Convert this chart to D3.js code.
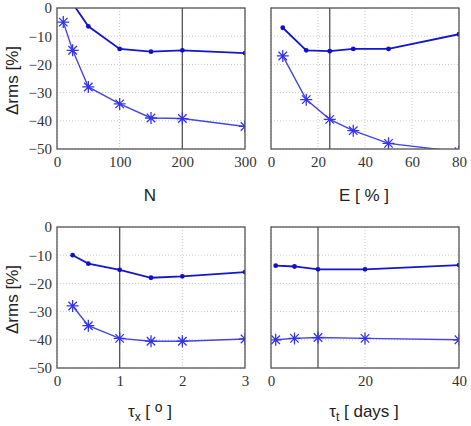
<!DOCTYPE html>
<html>
<head>
<meta charset="utf-8">
<script src="https://cdn.jsdelivr.net/npm/d3@7"></script>
<style>
  body { margin: 0; background: #fff; }
</style>
</head>
<body>
<svg id="chart" width="471" height="426"></svg>
<script>
// panel 1: N
var nX = [10, 25, 50, 100, 150, 200, 300];
var nDot = [8, 1.6, -6.5, -14.5, -15.5, -15, -16];
var nStar = [-5, -15, -28, -34, -39, -39.2, -42];
// panel 2: E [%]
var eX = [5, 15, 25, 35, 50, 80];
var eDot = [-7, -15, -15.3, -14.5, -14.5, -9.3];
var eStar = [-17, -32.5, -39.5, -43.5, -48, -51];
// panel 3: tau_x
var txX = [0.25, 0.5, 1, 1.5, 2, 3];
var txDot = [-10, -13, -15.2, -18, -17.5, -16];
var txStar = [-28, -35, -39.5, -40.5, -40.5, -39.7];
// panel 4: tau_t
var ttX = [1, 5, 10, 20, 40];
var ttDot = [-13.7, -14, -15, -15, -13.5];
var ttStar = [-40, -39.5, -39.2, -39.5, -40];

var yTicks = [0, -10, -20, -30, -40, -50];

var panels = [
  {x: nX, dot: nDot, star: nStar, dom: [0, 300], ticks: [0, 100, 200, 300], vline: 200,
   left: 57, top: 8, label: "N", ylab: true},
  {x: eX, dot: eDot, star: eStar, dom: [0, 80], ticks: [0, 20, 40, 60, 80], vline: 25,
   left: 271, top: 8, label: "E [ % ]", ylab: false},
  {x: txX, dot: txDot, star: txStar, dom: [0, 3], ticks: [0, 1, 2, 3], vline: 1,
   left: 57, top: 227, label: "tx", ylab: true},
  {x: ttX, dot: ttDot, star: ttStar, dom: [0, 40], ticks: [0, 20, 40], vline: 10,
   left: 271, top: 227, label: "tt", ylab: false}
];

var W = 188, H = 141;
var svg = d3.select("#chart");
var serif = "Liberation Serif";
var sans = "Liberation Sans";

// matlab style '*' marker: plus + cross
function starPath(r) {
  var k = r * 0.7071;
  return "M" + (-r) + ",0L" + r + ",0M0," + (-r) + "L0," + r +
    "M" + (-k) + "," + (-k) + "L" + k + "," + k + "M" + (-k) + "," + k + "L" + k + "," + (-k);
}

panels.forEach(function(p, i) {
  var g = svg.append("g").attr("transform", "translate(" + p.left + "," + p.top + ")");
  var x = d3.scaleLinear().domain(p.dom).range([0, W]);
  var y = d3.scaleLinear().domain([-50, 0]).range([H, 0]);

  // dotted grid
  g.append("g").selectAll("line").data(p.ticks).enter().append("line")
    .attr("x1", x).attr("x2", x).attr("y1", 0).attr("y2", H)
    .attr("stroke", "#c8c8c8").attr("stroke-dasharray", "1,2");
  g.append("g").selectAll("line").data(yTicks).enter().append("line")
    .attr("y1", y).attr("y2", y).attr("x1", 0).attr("x2", W)
    .attr("stroke", "#c8c8c8").attr("stroke-dasharray", "1,2");

  // vertical reference line
  g.append("line").attr("x1", x(p.vline)).attr("x2", x(p.vline))
    .attr("y1", 0).attr("y2", H).attr("stroke", "#555").attr("stroke-width", 1.3);

  var xa = g.append("g").attr("transform", "translate(0," + H + ")")
    .call(d3.axisBottom(x).tickValues(p.ticks).tickFormat(d3.format("d")).tickSize(0).tickPadding(7));
  xa.select(".domain").remove();
  var ya = g.append("g").call(d3.axisLeft(y).tickValues(yTicks).tickFormat(d3.format("d")).tickSize(0).tickPadding(5));
  ya.select(".domain").remove();
  if (!p.ylab) ya.selectAll("text").remove();
  [xa, ya].forEach(function(a) {
    a.attr("font-family", serif).attr("font-size", "15px");
    a.selectAll("text")
      .attr("font-family", serif).attr("font-size", "15px").attr("fill", "#333")
      .style("font-family", serif).style("font-size", "15px");
  });

  // clip data to plot area
  var cid = "clip" + i;
  g.append("clipPath").attr("id", cid).append("rect").attr("width", W).attr("height", H);
  var d = g.append("g").attr("clip-path", "url(#" + cid + ")");

  var line = d3.line().x(function(v) { return x(v[0]); }).y(function(v) { return y(v[1]); });
  var dots = p.x.map(function(v, j) { return [v, p.dot[j]]; });
  var stars = p.x.map(function(v, j) { return [v, p.star[j]]; });

  d.append("path").datum(dots).attr("d", line).attr("fill", "none")
    .attr("stroke", "#1515d0").attr("stroke-width", 1.8);
  d.selectAll(".dot").data(dots).enter().append("circle")
    .attr("cx", function(v) { return x(v[0]); }).attr("cy", function(v) { return y(v[1]); })
    .attr("r", 2.4).attr("fill", "#1010c8");

  d.append("path").datum(stars).attr("d", line).attr("fill", "none")
    .attr("stroke", "#4646e0").attr("stroke-width", 1.4);
  d.selectAll(".star").data(stars).enter().append("path")
    .attr("transform", function(v) { return "translate(" + x(v[0]) + "," + y(v[1]) + ")"; })
    .attr("d", starPath(6)).attr("fill", "none").attr("stroke", "#3434f0").attr("stroke-width", 1.3);

  // frame
  g.append("rect").attr("width", W).attr("height", H).attr("fill", "none")
    .attr("stroke", "#555").attr("stroke-width", 1.3);

  // x label
  var t = g.append("text").attr("font-family", sans).attr("font-size", "17px").attr("fill", "#222")
    .attr("x", W / 2 - 1).attr("y", H + (i < 2 ? 52 : 49)).attr("text-anchor", "middle");
  if (p.label === "tx") {
    t.text("\u03C4");
    t.append("tspan").attr("font-size", "12px").attr("dy", 4).text("x");
    t.append("tspan").attr("dy", -4).text(" [ ");
    t.append("tspan").attr("font-size", "14px").attr("dy", -5).text("o");
    t.append("tspan").attr("dy", 5).text(" ]");
  } else if (p.label === "tt") {
    t.text("\u03C4");
    t.append("tspan").attr("font-size", "12px").attr("dy", 4).text("t");
    t.append("tspan").attr("dy", -4).text(" [ days ]");
  } else {
    t.text(p.label);
  }

  if (p.ylab) {
    svg.append("text").attr("font-family", sans).attr("font-size", "17px").attr("fill", "#222")
      .attr("transform", "translate(18," + (p.top + H / 2 + 2) + ") rotate(-90)")
      .attr("text-anchor", "middle").text("\u0394rms [%]");
  }
});
</script>
</body>
</html>
